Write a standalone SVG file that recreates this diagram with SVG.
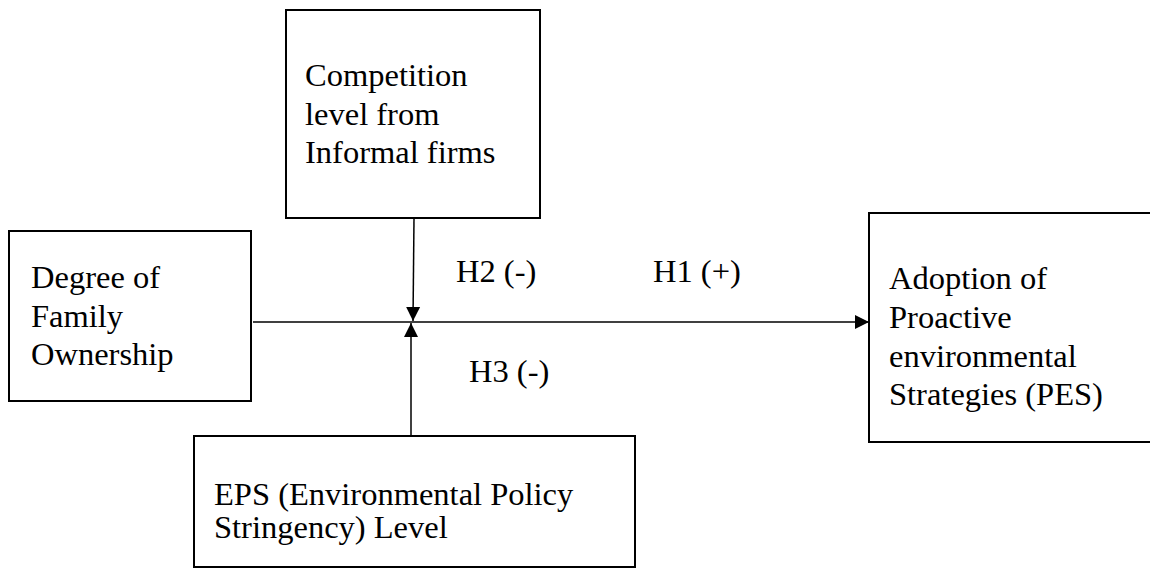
<svg xmlns="http://www.w3.org/2000/svg" width="1150" height="569" viewBox="0 0 1150 569">
<defs>
<style>
.box{fill:#fff;stroke:#000;stroke-width:2}
.t{font-family:"Liberation Serif","Times New Roman",serif;font-size:32.5px;fill:#000}
.c{stroke:#000;stroke-width:1.5;fill:none}
</style>
<marker id="ah" viewBox="0 0 10 10" refX="10" refY="5" markerWidth="14" markerHeight="15" markerUnits="userSpaceOnUse" orient="auto">
<path d="M0,0 L10,5 L0,10 Z" fill="#000"/>
</marker>
</defs>
<rect width="1150" height="569" fill="#fff"/>
<g id="competition">
<rect class="box" x="286" y="10" width="254" height="208"/>
<text class="t" x="305" y="86">Competition</text>
<text class="t" x="305" y="125">level from</text>
<text class="t" x="305" y="163">Informal firms</text>
</g>
<g id="family">
<rect class="box" x="9" y="231" width="242" height="170"/>
<text class="t" x="31" y="288">Degree of</text>
<text class="t" x="31" y="327">Family</text>
<text class="t" x="31" y="365">Ownership</text>
</g>
<g id="pes">
<rect class="box" x="869" y="213" width="290" height="229"/>
<text class="t" x="889" y="289">Adoption of</text>
<text class="t" x="889" y="328">Proactive</text>
<text class="t" x="889" y="367">environmental</text>
<text class="t" x="889" y="405">Strategies (PES)</text>
</g>
<g id="eps">
<rect class="box" x="194" y="436" width="441" height="131"/>
<text class="t" x="214" y="505">EPS (Environmental Policy</text>
<text class="t" x="214" y="538">Stringency) Level</text>
</g>
<g id="connectors">
<line class="c" x1="253" y1="322" x2="869" y2="322" marker-end="url(#ah)"/>
<line class="c" x1="414" y1="218" x2="413" y2="321" marker-end="url(#ah)"/>
<line class="c" x1="411" y1="436" x2="411" y2="323" marker-end="url(#ah)"/>
</g>
<g id="labels">
<text class="t" x="456" y="282">H2 (-)</text>
<text class="t" x="653" y="282">H1 (+)</text>
<text class="t" x="469" y="382">H3 (-)</text>
</g>
</svg>
